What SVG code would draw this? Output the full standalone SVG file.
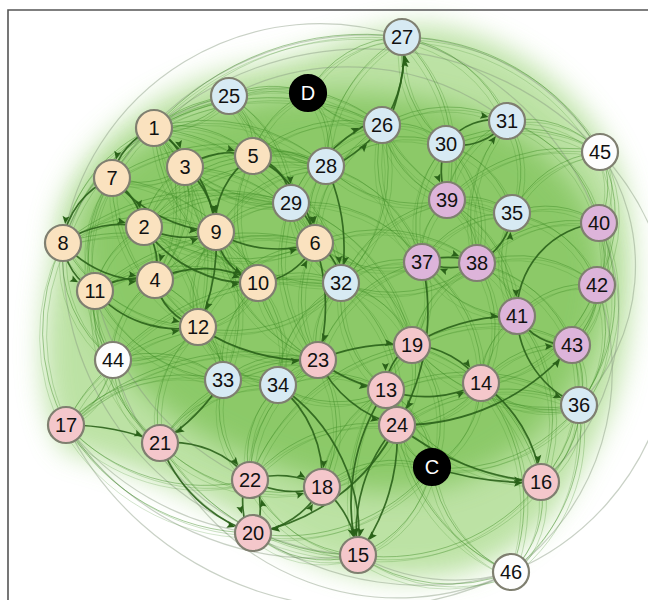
<svg xmlns="http://www.w3.org/2000/svg" xmlns:xlink="http://www.w3.org/1999/xlink" width="648" height="600" viewBox="0 0 648 600">
<defs>
<style>
.e{fill:none;stroke:#3f8c26;stroke-opacity:.45;stroke-width:1}
.s{fill:none;stroke:#2a6219;stroke-opacity:.9;stroke-width:1.7;marker-end:url(#a)}
.o{fill:none;stroke:#889a80;stroke-opacity:.45;stroke-width:1.2}
circle{stroke:#7f7f70;stroke-width:2.2}
.y{fill:#fae2bf}.b{fill:#d7eaf3}.p{fill:#f4c7cb}.u{fill:#ddb4da}.w{fill:#fdfdfd}.k{fill:#000;stroke:#000}
text{font-family:"Liberation Sans",Arial,sans-serif;font-size:20px;text-anchor:middle;fill:#111}
.kt{fill:#fff}
</style>
<marker id="a" markerUnits="userSpaceOnUse" markerWidth="40" markerHeight="12" viewBox="-30 -6 40 12" refX="0" refY="0" orient="auto" overflow="visible"><path d="M-19 0 L-27 -3.5 L-25.5 0 L-27 3.5 Z" fill="#2a6219"/></marker>
<filter id="bl" x="-20%" y="-20%" width="140%" height="140%"><feGaussianBlur stdDeviation="14"/></filter>
</defs>
<rect width="648" height="600" fill="#fff"/>
<g id="background">
<path d="M55 250 C55 160 150 85 250 68 C320 55 360 28 420 26 C500 28 585 90 618 170 C645 250 630 380 595 440 C565 500 540 545 470 570 C400 590 320 572 260 530 C200 495 130 465 65 450 C35 400 40 320 55 250 Z" fill="#acdb8e" opacity=".8" filter="url(#bl)"/>
<path d="M80 230 C95 150 200 105 300 95 C400 85 525 105 585 200 C625 280 595 385 525 445 C460 495 380 505 300 475 C200 445 80 385 80 230 Z" fill="#7cc155" opacity=".75" filter="url(#bl)"/>
</g>
<g id="connectors">
<g id="outer">
<path class="o" d="M63 243 A260 260 0 0 1 402 37"/>
<path class="o" d="M112 178 A300 300 0 0 1 402 37"/>
<path class="o" d="M154 128 A320 320 0 0 1 600 152"/>
<path class="o" d="M402 37 A240 240 0 0 1 600 152"/>
<path class="o" d="M402 37 A300 300 0 0 1 599 223"/>
<path class="o" d="M600 152 A200 200 0 0 1 579 405"/>
<path class="o" d="M599 223 A220 220 0 0 1 541 482"/>
<path class="o" d="M597 285 A250 250 0 0 1 511 572"/>
<path class="o" d="M66 425 A300 300 0 0 0 358 555"/>
<path class="o" d="M63 243 A300 300 0 0 0 253 533"/>
<path class="o" d="M113 360 A260 260 0 0 0 358 555"/>
<path class="o" d="M358 555 A200 200 0 0 0 511 572"/>
<path class="o" d="M253 533 A300 300 0 0 0 511 572"/>
<path class="o" d="M66 425 A330 330 0 0 0 511 572"/>
<path class="o" d="M63 243 A230 230 0 0 1 229 96"/>
<path class="o" d="M600 152 A260 260 0 0 1 511 572"/>
<path class="o" d="M160 443 A260 260 0 0 0 511 572"/>
<path class="o" d="M66 425 A280 280 0 0 0 253 533"/>
<path class="o" d="M95 291 A280 280 0 0 0 250 480"/>
<path class="o" d="M229 96 A260 260 0 0 1 507 121"/>
</g>
<g id="light">
<path class="e" d="M154 128 A110 110 0 0 1 253 156"/>
<path class="e" d="M154 128 A90 90 0 0 0 229 96"/>
<path class="e" d="M154 128 A180 180 0 0 1 326 166"/>
<path class="e" d="M154 128 A160 160 0 0 0 291 203"/>
<path class="e" d="M154 128 A200 200 0 0 1 315 243"/>
<path class="e" d="M154 128 A190 190 0 0 0 258 283"/>
<path class="e" d="M154 128 A200 200 0 0 1 198 327"/>
<path class="e" d="M154 128 A150 150 0 0 0 63 243"/>
<path class="e" d="M154 128 A140 140 0 0 1 155 280"/>
<path class="e" d="M154 128 A240 240 0 0 1 382 125"/>
<path class="e" d="M185 167 A80 80 0 0 0 144 227"/>
<path class="e" d="M185 167 A80 80 0 0 1 112 178"/>
<path class="e" d="M185 167 A120 120 0 0 0 291 203"/>
<path class="e" d="M185 167 A150 150 0 0 1 315 243"/>
<path class="e" d="M185 167 A140 140 0 0 0 258 283"/>
<path class="e" d="M185 167 A120 120 0 0 1 155 280"/>
<path class="e" d="M185 167 A150 150 0 0 1 326 166"/>
<path class="e" d="M253 156 A70 70 0 0 0 229 96"/>
<path class="e" d="M253 156 A80 80 0 0 1 326 166"/>
<path class="e" d="M253 156 A140 140 0 0 1 382 125"/>
<path class="e" d="M253 156 A120 120 0 0 0 258 283"/>
<path class="e" d="M253 156 A160 160 0 0 1 341 283"/>
<path class="e" d="M253 156 A130 130 0 0 0 144 227"/>
<path class="e" d="M253 156 A90 90 0 0 1 308 93"/>
<path class="e" d="M112 178 A120 120 0 0 0 95 291"/>
<path class="e" d="M112 178 A110 110 0 0 1 155 280"/>
<path class="e" d="M112 178 A170 170 0 0 0 198 327"/>
<path class="e" d="M112 178 A180 180 0 0 1 258 283"/>
<path class="e" d="M112 178 A150 150 0 0 1 229 96"/>
<path class="e" d="M112 178 A180 180 0 0 0 113 360"/>
<path class="e" d="M144 227 A90 90 0 0 0 95 291"/>
<path class="e" d="M144 227 A110 110 0 0 1 198 327"/>
<path class="e" d="M144 227 A170 170 0 0 0 315 243"/>
<path class="e" d="M144 227 A150 150 0 0 1 291 203"/>
<path class="e" d="M63 243 A160 160 0 0 0 198 327"/>
<path class="e" d="M63 243 A130 130 0 0 0 113 360"/>
<path class="e" d="M63 243 A200 200 0 0 0 66 425"/>
<path class="e" d="M63 243 A200 200 0 0 1 258 283"/>
<path class="e" d="M63 243 A220 220 0 0 1 229 96"/>
<path class="e" d="M63 243 A150 150 0 0 1 216 232"/>
<path class="e" d="M216 232 A90 90 0 0 1 291 203"/>
<path class="e" d="M216 232 A140 140 0 0 0 341 283"/>
<path class="e" d="M216 232 A100 100 0 0 0 198 327"/>
<path class="e" d="M216 232 A80 80 0 0 1 155 280"/>
<path class="e" d="M216 232 A160 160 0 0 0 318 360"/>
<path class="e" d="M216 232 A150 150 0 0 1 223 380"/>
<path class="e" d="M216 232 A130 130 0 0 1 326 166"/>
<path class="e" d="M95 291 A80 80 0 0 0 113 360"/>
<path class="e" d="M95 291 A170 170 0 0 1 258 283"/>
<path class="e" d="M95 291 A160 160 0 0 0 223 380"/>
<path class="e" d="M95 291 A170 170 0 0 0 160 443"/>
<path class="e" d="M155 280 A120 120 0 0 1 223 380"/>
<path class="e" d="M155 280 A180 180 0 0 0 318 360"/>
<path class="e" d="M155 280 A90 90 0 0 0 113 360"/>
<path class="e" d="M258 283 A80 80 0 0 1 198 327"/>
<path class="e" d="M258 283 A90 90 0 0 1 341 283"/>
<path class="e" d="M258 283 A100 100 0 0 0 318 360"/>
<path class="e" d="M258 283 A110 110 0 0 1 278 385"/>
<path class="e" d="M258 283 A110 110 0 0 0 223 380"/>
<path class="e" d="M315 243 A80 80 0 0 1 326 166"/>
<path class="e" d="M315 243 A110 110 0 0 0 422 262"/>
<path class="e" d="M315 243 A140 140 0 0 1 412 345"/>
<path class="e" d="M315 243 A120 120 0 0 0 318 360"/>
<path class="e" d="M315 243 A140 140 0 0 1 382 125"/>
<path class="e" d="M229 96 A160 160 0 0 1 382 125"/>
<path class="e" d="M229 96 A120 120 0 0 0 326 166"/>
<path class="e" d="M229 96 A100 100 0 0 1 308 93"/>
<path class="e" d="M229 96 A130 130 0 0 1 291 203"/>
<path class="e" d="M308 93 A90 90 0 0 0 382 125"/>
<path class="e" d="M308 93 A80 80 0 0 1 326 166"/>
<path class="e" d="M308 93 A110 110 0 0 1 402 37"/>
<path class="e" d="M402 37 A140 140 0 0 1 507 121"/>
<path class="e" d="M402 37 A120 120 0 0 0 446 144"/>
<path class="e" d="M402 37 A150 150 0 0 0 326 166"/>
<path class="e" d="M402 37 A230 230 0 0 1 600 152"/>
<path class="e" d="M402 37 A170 170 0 0 1 447 200"/>
<path class="e" d="M382 125 A70 70 0 0 1 446 144"/>
<path class="e" d="M382 125 A100 100 0 0 0 447 200"/>
<path class="e" d="M382 125 A130 130 0 0 1 507 121"/>
<path class="e" d="M382 125 A160 160 0 0 0 512 213"/>
<path class="e" d="M382 125 A160 160 0 0 1 341 283"/>
<path class="e" d="M382 125 A140 140 0 0 0 422 262"/>
<path class="e" d="M326 166 A120 120 0 0 1 446 144"/>
<path class="e" d="M326 166 A130 130 0 0 0 447 200"/>
<path class="e" d="M326 166 A140 140 0 0 1 422 262"/>
<path class="e" d="M291 203 A100 100 0 0 0 341 283"/>
<path class="e" d="M291 203 A140 140 0 0 1 422 262"/>
<path class="e" d="M291 203 A160 160 0 0 0 318 360"/>
<path class="e" d="M291 203 A190 190 0 0 1 412 345"/>
<path class="e" d="M446 144 A100 100 0 0 1 512 213"/>
<path class="e" d="M446 144 A120 120 0 0 0 422 262"/>
<path class="e" d="M446 144 A120 120 0 0 1 477 263"/>
<path class="e" d="M446 144 A160 160 0 0 1 600 152"/>
<path class="e" d="M507 121 A100 100 0 0 1 512 213"/>
<path class="e" d="M507 121 A100 100 0 0 1 600 152"/>
<path class="e" d="M507 121 A140 140 0 0 1 599 223"/>
<path class="e" d="M507 121 A150 150 0 0 0 477 263"/>
<path class="e" d="M507 121 A100 100 0 0 0 447 200"/>
<path class="e" d="M447 200 A70 70 0 0 0 422 262"/>
<path class="e" d="M447 200 A70 70 0 0 1 477 263"/>
<path class="e" d="M447 200 A70 70 0 0 1 512 213"/>
<path class="e" d="M447 200 A140 140 0 0 1 517 316"/>
<path class="e" d="M447 200 A140 140 0 0 0 341 283"/>
<path class="e" d="M512 213 A90 90 0 0 1 599 223"/>
<path class="e" d="M512 213 A110 110 0 0 0 517 316"/>
<path class="e" d="M512 213 A110 110 0 0 1 597 285"/>
<path class="e" d="M512 213 A100 100 0 0 0 422 262"/>
<path class="e" d="M599 223 A70 70 0 0 1 597 285"/>
<path class="e" d="M599 223 A130 130 0 0 1 572 345"/>
<path class="e" d="M599 223 A80 80 0 0 0 600 152"/>
<path class="e" d="M599 223 A180 180 0 0 1 579 405"/>
<path class="e" d="M597 285 A70 70 0 0 1 572 345"/>
<path class="e" d="M597 285 A120 120 0 0 1 579 405"/>
<path class="e" d="M597 285 A90 90 0 0 0 517 316"/>
<path class="e" d="M597 285 A120 120 0 0 0 477 263"/>
<path class="e" d="M422 262 A90 90 0 0 0 341 283"/>
<path class="e" d="M422 262 A90 90 0 0 1 412 345"/>
<path class="e" d="M422 262 A110 110 0 0 0 517 316"/>
<path class="e" d="M422 262 A140 140 0 0 1 481 383"/>
<path class="e" d="M422 262 A140 140 0 0 0 318 360"/>
<path class="e" d="M477 263 A70 70 0 0 1 517 316"/>
<path class="e" d="M477 263 A110 110 0 0 0 412 345"/>
<path class="e" d="M477 263 A120 120 0 0 1 481 383"/>
<path class="e" d="M477 263 A130 130 0 0 1 572 345"/>
<path class="e" d="M341 283 A80 80 0 0 0 318 360"/>
<path class="e" d="M341 283 A100 100 0 0 1 412 345"/>
<path class="e" d="M341 283 A120 120 0 0 0 386 390"/>
<path class="e" d="M341 283 A120 120 0 0 0 278 385"/>
<path class="e" d="M341 283 A150 150 0 0 1 397 425"/>
<path class="e" d="M517 316 A80 80 0 0 0 481 383"/>
<path class="e" d="M517 316 A170 170 0 0 1 541 482"/>
<path class="e" d="M572 345 A70 70 0 0 1 579 405"/>
<path class="e" d="M572 345 A100 100 0 0 0 481 383"/>
<path class="e" d="M572 345 A140 140 0 0 1 541 482"/>
<path class="e" d="M572 345 A160 160 0 0 0 412 345"/>
<path class="e" d="M412 345 A90 90 0 0 1 397 425"/>
<path class="e" d="M412 345 A180 180 0 0 0 579 405"/>
<path class="e" d="M412 345 A120 120 0 0 1 432 467"/>
<path class="e" d="M386 390 A180 180 0 0 0 541 482"/>
<path class="e" d="M386 390 A90 90 0 0 1 432 467"/>
<path class="e" d="M386 390 A120 120 0 0 0 322 487"/>
<path class="e" d="M386 390 A110 110 0 0 1 278 385"/>
<path class="e" d="M481 383 A100 100 0 0 1 397 425"/>
<path class="e" d="M481 383 A100 100 0 0 0 579 405"/>
<path class="e" d="M481 383 A100 100 0 0 1 432 467"/>
<path class="e" d="M397 425 A60 60 0 0 0 432 467"/>
<path class="e" d="M397 425 A100 100 0 0 1 322 487"/>
<path class="e" d="M397 425 A160 160 0 0 0 250 480"/>
<path class="e" d="M397 425 A180 180 0 0 1 579 405"/>
<path class="e" d="M579 405 A90 90 0 0 1 541 482"/>
<path class="e" d="M579 405 A160 160 0 0 1 432 467"/>
<path class="e" d="M579 405 A180 180 0 0 1 511 572"/>
<path class="e" d="M432 467 A120 120 0 0 1 358 555"/>
<path class="e" d="M432 467 A130 130 0 0 0 511 572"/>
<path class="e" d="M432 467 A110 110 0 0 0 322 487"/>
<path class="e" d="M432 467 A190 190 0 0 1 253 533"/>
<path class="e" d="M541 482 A100 100 0 0 1 511 572"/>
<path class="e" d="M541 482 A200 200 0 0 1 358 555"/>
<path class="e" d="M198 327 A70 70 0 0 1 223 380"/>
<path class="e" d="M198 327 A100 100 0 0 0 278 385"/>
<path class="e" d="M198 327 A120 120 0 0 0 160 443"/>
<path class="e" d="M198 327 A90 90 0 0 1 113 360"/>
<path class="e" d="M113 360 A100 100 0 0 0 160 443"/>
<path class="e" d="M113 360 A90 90 0 0 1 66 425"/>
<path class="e" d="M113 360 A110 110 0 0 1 223 380"/>
<path class="e" d="M66 425 A190 190 0 0 0 250 480"/>
<path class="e" d="M66 425 A220 220 0 0 0 253 533"/>
<path class="e" d="M66 425 A160 160 0 0 1 223 380"/>
<path class="e" d="M160 443 A170 170 0 0 0 322 487"/>
<path class="e" d="M160 443 A130 130 0 0 1 278 385"/>
<path class="e" d="M160 443 A230 230 0 0 0 358 555"/>
<path class="e" d="M223 380 A60 60 0 0 1 278 385"/>
<path class="e" d="M223 380 A100 100 0 0 0 250 480"/>
<path class="e" d="M223 380 A100 100 0 0 1 318 360"/>
<path class="e" d="M278 385 A60 60 0 0 1 318 360"/>
<path class="e" d="M278 385 A100 100 0 0 0 250 480"/>
<path class="e" d="M278 385 A110 110 0 0 1 386 390"/>
<path class="e" d="M318 360 A130 130 0 0 1 322 487"/>
<path class="e" d="M318 360 A140 140 0 0 0 250 480"/>
<path class="e" d="M250 480 A130 130 0 0 0 358 555"/>
<path class="e" d="M253 533 A110 110 0 0 0 358 555"/>
<path class="e" d="M358 555 A160 160 0 0 0 511 572"/>
<path class="e" d="M154 128 A280 280 0 0 1 402 37"/>
<path class="e" d="M112 178 A220 220 0 0 1 326 166"/>
<path class="e" d="M95 291 A230 230 0 0 1 315 243"/>
<path class="e" d="M63 243 A240 240 0 0 1 291 203"/>
<path class="e" d="M113 360 A250 250 0 0 1 341 283"/>
<path class="e" d="M66 425 A170 170 0 0 1 198 327"/>
<path class="e" d="M66 425 A270 270 0 0 1 318 360"/>
<path class="e" d="M160 443 A180 180 0 0 1 318 360"/>
<path class="e" d="M250 480 A210 210 0 0 1 412 345"/>
<path class="e" d="M358 555 A220 220 0 0 1 412 345"/>
<path class="e" d="M511 572 A190 190 0 0 1 397 425"/>
<path class="e" d="M511 572 A190 190 0 0 0 481 383"/>
<path class="e" d="M541 482 A190 190 0 0 0 412 345"/>
<path class="e" d="M579 405 A200 200 0 0 0 386 390"/>
<path class="e" d="M600 152 A110 110 0 0 0 512 213"/>
<path class="e" d="M600 152 A140 140 0 0 1 597 285"/>
<path class="e" d="M600 152 A160 160 0 0 0 447 200"/>
<path class="e" d="M599 223 A130 130 0 0 0 477 263"/>
<path class="e" d="M597 285 A150 150 0 0 1 481 383"/>
<path class="e" d="M315 243 A160 160 0 0 1 477 263"/>
<path class="e" d="M341 283 A140 140 0 0 0 477 263"/>
<path class="e" d="M291 203 A120 120 0 0 1 382 125"/>
<path class="e" d="M144 227 A190 190 0 0 1 326 166"/>
<path class="e" d="M155 280 A160 160 0 0 1 315 243"/>
<path class="e" d="M198 327 A150 150 0 0 0 341 283"/>
<path class="e" d="M198 327 A140 140 0 0 1 315 243"/>
</g>
<use xlink:href="#light" href="#light" transform="translate(4 3)" opacity=".6"/>
<use xlink:href="#light" href="#light" transform="translate(-3 5)" opacity=".5"/>
<g id="strong">
<path class="s" d="M154 128 A60 60 0 0 1 185 167"/>
<path class="s" d="M154 128 A70 70 0 0 0 112 178"/>
<path class="s" d="M154 128 A140 140 0 0 1 216 232"/>
<path class="s" d="M185 167 A90 90 0 0 1 216 232"/>
<path class="s" d="M112 178 A80 80 0 0 1 144 227"/>
<path class="s" d="M112 178 A80 80 0 0 0 63 243"/>
<path class="s" d="M112 178 A150 150 0 0 0 216 232"/>
<path class="s" d="M63 243 A60 60 0 0 0 95 291"/>
<path class="s" d="M63 243 A100 100 0 0 1 144 227"/>
<path class="s" d="M63 243 A110 110 0 0 0 155 280"/>
<path class="s" d="M95 291 A80 80 0 0 1 155 280"/>
<path class="s" d="M95 291 A110 110 0 0 0 198 327"/>
<path class="s" d="M144 227 A90 90 0 0 0 216 232"/>
<path class="s" d="M144 227 A60 60 0 0 1 155 280"/>
<path class="s" d="M144 227 A130 130 0 0 0 258 283"/>
<path class="s" d="M155 280 A60 60 0 0 0 198 327"/>
<path class="s" d="M155 280 A110 110 0 0 1 258 283"/>
<path class="s" d="M185 167 A80 80 0 0 1 253 156"/>
<path class="s" d="M253 156 A80 80 0 0 0 216 232"/>
<path class="s" d="M253 156 A110 110 0 0 1 315 243"/>
<path class="s" d="M253 156 A50 50 0 0 1 291 203"/>
<path class="s" d="M216 232 A120 120 0 0 0 315 243"/>
<path class="s" d="M216 232 A60 60 0 0 0 258 283"/>
<path class="s" d="M291 203 A50 50 0 0 1 315 243"/>
<path class="s" d="M315 243 A50 50 0 0 1 341 283"/>
<path class="s" d="M258 283 A70 70 0 0 0 315 243"/>
<path class="s" d="M328 170 A200 200 0 0 0 380 130"/>
<path class="s" d="M322 160 A200 200 0 0 1 376 119"/>
<path class="s" d="M382 125 A120 120 0 0 0 402 37"/>
<path class="s" d="M388 124 A220 220 0 0 0 405 40"/>
<path class="s" d="M446 144 A60 60 0 0 1 507 121"/>
<path class="s" d="M446 144 A60 60 0 0 0 507 121"/>
<path class="s" d="M422 262 A80 80 0 0 1 477 263"/>
<path class="s" d="M477 263 A80 80 0 0 1 422 262"/>
<path class="s" d="M477 263 A60 60 0 0 0 512 213"/>
<path class="s" d="M599 223 A90 90 0 0 0 517 316"/>
<path class="s" d="M517 316 A60 60 0 0 0 572 345"/>
<path class="s" d="M517 316 A100 100 0 0 0 579 405"/>
<path class="s" d="M412 345 A50 50 0 0 0 386 390"/>
<path class="s" d="M412 345 A90 90 0 0 1 481 383"/>
<path class="s" d="M386 390 A120 120 0 0 0 481 383"/>
<path class="s" d="M397 425 A220 220 0 0 0 572 345"/>
<path class="s" d="M397 425 A260 260 0 0 0 541 482"/>
<path class="s" d="M432 467 A300 300 0 0 0 541 482"/>
<path class="s" d="M481 383 A140 140 0 0 1 541 482"/>
<path class="s" d="M397 425 A160 160 0 0 0 358 555"/>
<path class="s" d="M397 425 A200 200 0 0 1 358 555"/>
<path class="s" d="M386 390 A200 200 0 0 0 358 555"/>
<path class="s" d="M397 425 A200 200 0 0 1 253 533"/>
<path class="s" d="M322 487 A100 100 0 0 1 358 555"/>
<path class="s" d="M278 385 A120 120 0 0 1 322 487"/>
<path class="s" d="M278 385 A180 180 0 0 1 358 555"/>
<path class="s" d="M250 480 A90 90 0 0 1 322 487"/>
<path class="s" d="M250 480 A90 90 0 0 0 322 487"/>
<path class="s" d="M244 482 A120 120 0 0 0 247 532"/>
<path class="s" d="M258 532 A120 120 0 0 0 257 481"/>
<path class="s" d="M253 533 A90 90 0 0 0 322 487"/>
<path class="s" d="M160 443 A100 100 0 0 1 250 480"/>
<path class="s" d="M160 443 A150 150 0 0 0 253 533"/>
<path class="s" d="M223 380 A200 200 0 0 1 160 443"/>
<path class="s" d="M66 425 A250 250 0 0 1 160 443"/>
<path class="s" d="M198 327 A200 200 0 0 0 318 360"/>
<path class="s" d="M318 360 A200 200 0 0 1 412 345"/>
<path class="s" d="M318 360 A150 150 0 0 0 386 390"/>
<path class="s" d="M318 360 A120 120 0 0 0 397 425"/>
<path class="s" d="M422 262 A220 220 0 0 1 397 425"/>
<path class="s" d="M412 345 A200 200 0 0 1 517 316"/>
<path class="s" d="M326 166 A200 200 0 0 1 341 283"/>
<path class="s" d="M446 144 A80 80 0 0 0 447 200"/>
<path class="s" d="M315 243 A200 200 0 0 1 318 360"/>
<path class="s" d="M216 232 A200 200 0 0 1 198 327"/>
</g>
</g>
<g id="nodes">
<g id="n1"><circle class="y" cx="154" cy="128" r="18"/><text x="154" y="135">1</text></g>
<g id="n2"><circle class="y" cx="144" cy="227" r="18"/><text x="144" y="234">2</text></g>
<g id="n3"><circle class="y" cx="185" cy="167" r="18"/><text x="185" y="174">3</text></g>
<g id="n4"><circle class="y" cx="155" cy="280" r="18"/><text x="155" y="287">4</text></g>
<g id="n5"><circle class="y" cx="253" cy="156" r="18"/><text x="253" y="163">5</text></g>
<g id="n6"><circle class="y" cx="315" cy="243" r="18"/><text x="315" y="250">6</text></g>
<g id="n7"><circle class="y" cx="112" cy="178" r="18"/><text x="112" y="185">7</text></g>
<g id="n8"><circle class="y" cx="63" cy="243" r="18"/><text x="63" y="250">8</text></g>
<g id="n9"><circle class="y" cx="216" cy="232" r="18"/><text x="216" y="239">9</text></g>
<g id="n10"><circle class="y" cx="258" cy="283" r="18"/><text x="258" y="290">10</text></g>
<g id="n11"><circle class="y" cx="95" cy="291" r="18"/><text x="95" y="298">11</text></g>
<g id="n12"><circle class="y" cx="198" cy="327" r="18"/><text x="198" y="334">12</text></g>
<g id="n13"><circle class="p" cx="386" cy="390" r="18"/><text x="386" y="397">13</text></g>
<g id="n14"><circle class="p" cx="481" cy="383" r="18"/><text x="481" y="390">14</text></g>
<g id="n15"><circle class="p" cx="358" cy="555" r="18"/><text x="358" y="562">15</text></g>
<g id="n16"><circle class="p" cx="541" cy="482" r="18"/><text x="541" y="489">16</text></g>
<g id="n17"><circle class="p" cx="66" cy="425" r="18"/><text x="66" y="432">17</text></g>
<g id="n18"><circle class="p" cx="322" cy="487" r="18"/><text x="322" y="494">18</text></g>
<g id="n19"><circle class="p" cx="412" cy="345" r="18"/><text x="412" y="352">19</text></g>
<g id="n20"><circle class="p" cx="253" cy="533" r="18"/><text x="253" y="540">20</text></g>
<g id="n21"><circle class="p" cx="160" cy="443" r="18"/><text x="160" y="450">21</text></g>
<g id="n22"><circle class="p" cx="250" cy="480" r="18"/><text x="250" y="487">22</text></g>
<g id="n23"><circle class="p" cx="318" cy="360" r="18"/><text x="318" y="367">23</text></g>
<g id="n24"><circle class="p" cx="397" cy="425" r="18"/><text x="397" y="432">24</text></g>
<g id="n25"><circle class="b" cx="229" cy="96" r="18"/><text x="229" y="103">25</text></g>
<g id="n26"><circle class="b" cx="382" cy="125" r="18"/><text x="382" y="132">26</text></g>
<g id="n27"><circle class="b" cx="402" cy="37" r="18"/><text x="402" y="44">27</text></g>
<g id="n28"><circle class="b" cx="326" cy="166" r="18"/><text x="326" y="173">28</text></g>
<g id="n29"><circle class="b" cx="291" cy="203" r="18"/><text x="291" y="210">29</text></g>
<g id="n30"><circle class="b" cx="446" cy="144" r="18"/><text x="446" y="151">30</text></g>
<g id="n31"><circle class="b" cx="507" cy="121" r="18"/><text x="507" y="128">31</text></g>
<g id="n32"><circle class="b" cx="341" cy="283" r="18"/><text x="341" y="290">32</text></g>
<g id="n33"><circle class="b" cx="223" cy="380" r="18"/><text x="223" y="387">33</text></g>
<g id="n34"><circle class="b" cx="278" cy="385" r="18"/><text x="278" y="392">34</text></g>
<g id="n35"><circle class="b" cx="512" cy="213" r="18"/><text x="512" y="220">35</text></g>
<g id="n36"><circle class="b" cx="579" cy="405" r="18"/><text x="579" y="412">36</text></g>
<g id="n37"><circle class="u" cx="422" cy="262" r="18"/><text x="422" y="269">37</text></g>
<g id="n38"><circle class="u" cx="477" cy="263" r="18"/><text x="477" y="270">38</text></g>
<g id="n39"><circle class="u" cx="447" cy="200" r="18"/><text x="447" y="207">39</text></g>
<g id="n40"><circle class="u" cx="599" cy="223" r="18"/><text x="599" y="230">40</text></g>
<g id="n41"><circle class="u" cx="517" cy="316" r="18"/><text x="517" y="323">41</text></g>
<g id="n42"><circle class="u" cx="597" cy="285" r="18"/><text x="597" y="292">42</text></g>
<g id="n43"><circle class="u" cx="572" cy="345" r="18"/><text x="572" y="352">43</text></g>
<g id="n44"><circle class="w" cx="113" cy="360" r="18"/><text x="113" y="367">44</text></g>
<g id="n45"><circle class="w" cx="600" cy="152" r="18"/><text x="600" y="159">45</text></g>
<g id="n46"><circle class="w" cx="511" cy="572" r="18"/><text x="511" y="579">46</text></g>
<g id="nC"><circle class="k" cx="432" cy="467" r="18"/><text class="kt" x="432" y="474">C</text></g>
<g id="nD"><circle class="k" cx="308" cy="93" r="18"/><text class="kt" x="308" y="100">D</text></g>
</g>
<g id="frame" fill="none" stroke="#555" stroke-width="1.6">
<path d="M8 600 V10 H648"/>
</g>
</svg>
